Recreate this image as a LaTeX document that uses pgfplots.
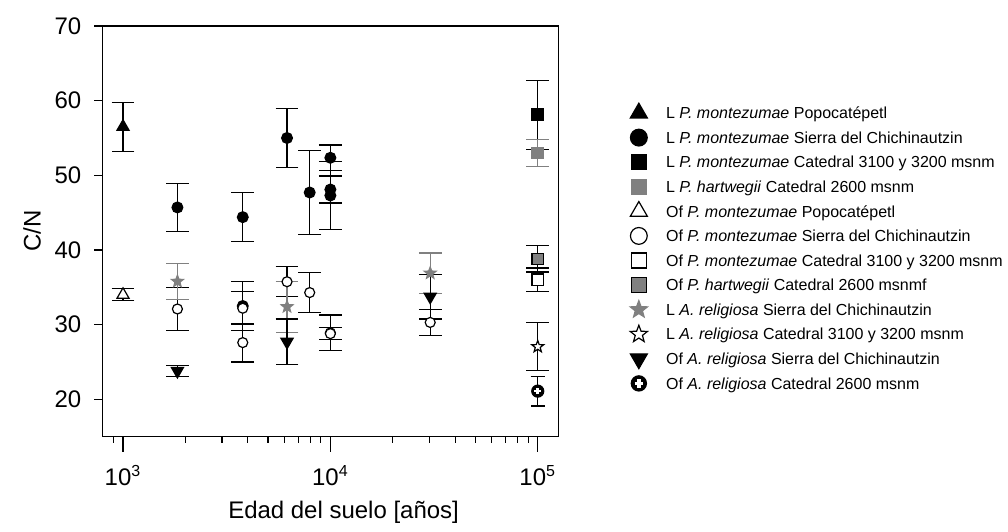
\documentclass[border=0pt]{standalone}
\usepackage{fontspec}
\setmainfont{Liberation Sans}
\usepackage{pgfplots}
\pgfplotsset{compat=1.18}
\definecolor{midgray}{HTML}{808080}

% five-pointed star and black blob with white cross
\pgfdeclareplotmark{fivestar}{%
  \pgfpathmoveto{\pgfpointpolar{90}{\pgfplotmarksize}}%
  \pgfpathlineto{\pgfpointpolar{126}{0.42*\pgfplotmarksize}}%
  \pgfpathlineto{\pgfpointpolar{162}{\pgfplotmarksize}}%
  \pgfpathlineto{\pgfpointpolar{198}{0.42*\pgfplotmarksize}}%
  \pgfpathlineto{\pgfpointpolar{234}{\pgfplotmarksize}}%
  \pgfpathlineto{\pgfpointpolar{270}{0.42*\pgfplotmarksize}}%
  \pgfpathlineto{\pgfpointpolar{306}{\pgfplotmarksize}}%
  \pgfpathlineto{\pgfpointpolar{342}{0.42*\pgfplotmarksize}}%
  \pgfpathlineto{\pgfpointpolar{18}{\pgfplotmarksize}}%
  \pgfpathlineto{\pgfpointpolar{54}{0.42*\pgfplotmarksize}}%
  \pgfpathclose
  \pgfusepathqfillstroke
}
\pgfdeclareplotmark{crossdot}{%
  \pgfpathcircle{\pgfpointorigin}{\pgfplotmarksize}%
  \pgfusepathqfillstroke
  \pgfsetstrokecolor{white}%
  \pgfsetlinewidth{0.45\pgfplotmarksize}%
  \pgfpathmoveto{\pgfpoint{-0.55\pgfplotmarksize}{0pt}}%
  \pgfpathlineto{\pgfpoint{0.55\pgfplotmarksize}{0pt}}%
  \pgfpathmoveto{\pgfpoint{0pt}{-0.55\pgfplotmarksize}}%
  \pgfpathlineto{\pgfpoint{0pt}{0.55\pgfplotmarksize}}%
  \pgfusepathqstroke
}

\pgfplotsset{
  ser/.style={only marks, line width=0.6pt},
  % legend marker: mark, stroke, fill, size, rotation
  lg/.style n args={5}{legend image code/.code={%
    \path[draw=none,fill=none] (0pt,-1pt) (17pt,1pt);
    \begin{scope}[shift={(6pt,0pt)}, rotate=#5]
      \pgfsetlinewidth{0.6pt}\pgfsetstrokecolor{#2}\pgfsetfillcolor{#3}%
      \pgfsetplotmarksize{#4}\pgfuseplotmark{#1}%
    \end{scope}}},
  eb/.style={error bars/.cd, y dir=both, y explicit,
    error bar style={line width=0.6pt,#1},
    error mark options={rotate=90, mark size=5.7pt, line width=0.6pt, #1}},
}

\begin{document}
\begin{tikzpicture}
\begin{axis}[
  at={(0,0)}, anchor=south west,
  scale only axis,
  width=228.3pt, height=205.5pt,
  xmode=log,
  xmin=794, xmax=125900,
  ymin=15, ymax=70,
  axis line style={line width=0.6pt},
  tick pos=left, tick align=outside,
  major tick length=7.5pt, minor tick length=3pt,
  every tick/.style={black, line width=0.6pt},
  xtick={1000,10000,100000},
  xticklabels={10\textsuperscript{3},10\textsuperscript{4},10\textsuperscript{5}},
  minor xtick={900,2000,3000,4000,5000,6000,7000,8000,9000,20000,30000,40000,50000,60000,70000,80000,90000},
  ytick=\empty,
  extra y ticks={20,30,40,50,60,70},
  extra y tick labels={20,30,40,50,60,70},
  extra y tick style={major tick length=4pt},
  tick label style={font=\fontsize{12}{14}\selectfont},
  xticklabel style={yshift=-3.5pt},
  yticklabel style={xshift=-3pt},
  label style={font=\fontsize{12}{14}\selectfont},
  ylabel={C/N},
  ylabel style={at={(axis description cs:-0.154,0.5)}, anchor=center},
  xlabel={Edad del suelo [años]},
  xlabel style={at={(axis description cs:0.529,0)}, anchor=center, yshift=-38pt},
  legend style={at={(1.149,0.819)}, anchor=north west, draw=none, fill=none, inner sep=0pt,
    font=\fontsize{8}{9.6}\selectfont,
    nodes={inner ysep=1pt, inner xsep=2.67pt, text height=8pt, text depth=2.3pt}},
  legend cell align=left,
]

\addplot[ser, black, mark=triangle*, mark size=3.5pt, mark options={fill=black},
  lg={triangle*}{black}{black}{4.9pt}{0}, eb=black]
  coordinates {(1000,56.5) +- (0,3.3)};
\addlegendentry{L \textit{P. montezumae} Popocatépetl}

\addplot[ser, black, mark=*, mark size=2.7pt, mark options={fill=black},
  lg={*}{black}{black}{4.2pt}{0}, eb=black]
  coordinates {(1830,45.7) +- (0,3.2) (3780,44.4) +- (0,3.3) (3780,32.5) +- (0,3.3)
    (6180,55.0) +- (0,3.95) (7950,47.7) +- (0,5.6) (10000,52.35) +- (0,1.7)
    (10000,48.1) +- (0,1.8) (10000,47.3) +- (0,4.6)};
\addlegendentry{L \textit{P. montezumae} Sierra del Chichinautzin}

\addplot[ser, black, mark=square*, mark size=2.9pt, mark options={fill=black},
  lg={square*}{black}{black}{3.8pt}{0}, eb=black]
  coordinates {(100000,58.1) +- (0,4.6)};
\addlegendentry{L \textit{P. montezumae} Catedral 3100 y 3200 msnm}

\addplot[ser, midgray, mark=square*, mark size=2.9pt, mark options={fill=midgray},
  lg={square*}{midgray}{midgray}{3.8pt}{0}, eb=midgray]
  coordinates {(100000,53.0) +- (0,1.8)};
\addlegendentry{L \textit{P. hartwegii} Catedral 2600 msnm}

\addplot[ser, black, mark=triangle*, mark size=3.5pt, mark options={fill=white},
  lg={triangle*}{black}{white}{4.9pt}{0}, eb=black]
  coordinates {(1000,34.0) +- (0,0.8)};
\addlegendentry{Of \textit{P. montezumae} Popocatépetl}

\addplot[ser, black, mark=*, mark size=2.5pt, mark options={fill=white},
  lg={*}{black}{white}{4.2pt}{0}, eb=black]
  coordinates {(1830,32.1) +- (0,2.9) (3780,32.2) +- (0,2.2) (3780,27.6) +- (0,2.6)
    (6180,35.75) +- (0,2.0) (7950,34.3) +- (0,2.65) (10000,28.9) +- (0,2.4)
    (10000,28.8) +- (0,0.8) (30300,30.3) +- (0,1.7)};
\addlegendentry{Of \textit{P. montezumae} Sierra del Chichinautzin}

\addplot[ser, black, mark=square*, mark size=2.9pt, mark options={fill=white},
  lg={square*}{black}{white}{3.8pt}{0}, eb=black]
  coordinates {(100000,36.0) +- (0,1.6)};
\addlegendentry{Of \textit{P. montezumae} Catedral 3100 y 3200 msnm}

\addplot[ser, black, mark=square*, mark size=2.9pt, mark options={fill=midgray},
  lg={square*}{black}{midgray}{3.8pt}{0}, eb=black]
  coordinates {(100000,38.8) +- (0,1.75)};
\addlegendentry{Of \textit{P. hartwegii} Catedral 2600 msnmf}

\addplot[ser, midgray, mark=fivestar, mark size=3.1pt, mark options={fill=midgray},
  lg={fivestar}{midgray}{midgray}{4.5pt}{0}, eb=midgray]
  coordinates {(1830,35.8) +- (0,2.4) (6180,32.4) +- (0,3.4) (30300,36.9) +- (0,2.7)};
\addlegendentry{L \textit{A. religiosa} Sierra del Chichinautzin}

\addplot[ser, black, mark=fivestar, mark size=3.1pt, mark options={fill=white},
  lg={fivestar}{black}{white}{4.5pt}{0}, eb=black]
  coordinates {(100000,27.05) +- (0,3.2)};
\addlegendentry{L \textit{A. religiosa} Catedral 3100 y 3200 msnm}

\addplot[ser, black, mark=triangle*, mark size=3.5pt, mark options={fill=black, rotate=180},
  lg={triangle*}{black}{black}{4.9pt}{180}, eb=black]
  coordinates {(1830,23.8) +- (0,0.7) (6180,27.7) +- (0,3.05) (30300,33.75) +- (0,3.0)};
\addlegendentry{Of \textit{A. religiosa} Sierra del Chichinautzin}

\addplot[ser, black, mark=crossdot, mark size=3pt, mark options={fill=black},
  lg={crossdot}{black}{black}{3.8pt}{0},
  error bars/.cd, y dir=both, y explicit, error bar style={line width=0.6pt, black},
  error mark options={rotate=90, mark size=3.6pt, line width=0.6pt, black}]
  coordinates {(100000,21.1) +- (0,2.0)};
\addlegendentry{Of \textit{A. religiosa} Catedral 2600 msnm}

\end{axis}
\path (-51.15pt,-47.5pt) rectangle (452.8pt,218.5pt);
\end{tikzpicture}
\end{document}
